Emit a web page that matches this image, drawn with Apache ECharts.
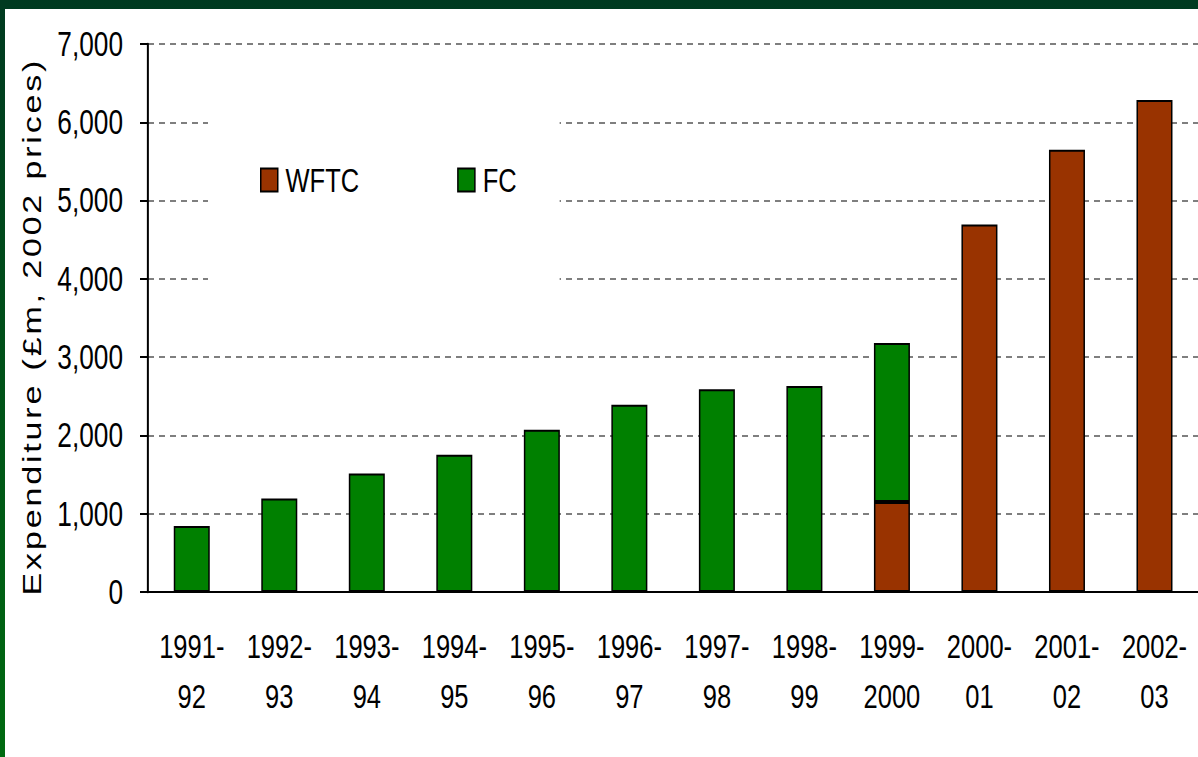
<!DOCTYPE html>
<html>
<head>
<meta charset="utf-8">
<script src="https://cdn.jsdelivr.net/npm/echarts@6/dist/echarts.min.js"></script>
<style>
  html, body { margin: 0; padding: 0; }
  body {
    width: 1198px; height: 757px; overflow: hidden; position: relative;
    background: linear-gradient(to bottom, #003a20, #006a10);
  }
  #sheet {
    position: absolute; left: 5px; top: 9px;
    width: 1193px; height: 748px; background: #fff; overflow: hidden;
  }
  /* the source slide is stretched: text is tall and narrow, so draw wide and squeeze */
  #main {
    width: 1590.67px; height: 748px;
    transform: scaleX(0.75); transform-origin: 0 0;
  }
</style>
</head>
<body>
<div id="sheet"><div id="main"></div></div>
<script>
var years = ['1991-\n92', '1992-\n93', '1993-\n94', '1994-\n95', '1995-\n96', '1996-\n97',
  '1997-\n98', '1998-\n99', '1999-\n2000', '2000-\n01', '2001-\n02', '2002-\n03'];
var wftc = [null, null, null, null, null, null, null, null, 1150, 4695, 5650, 6285];
var fc = [843, 1195, 1513, 1754, 2073, 2393, 2589, 2631, 2031, null, null, null];

var K = 0.75; // horizontal squeeze, screen px = K * chart px
function px(v) { return v / K; }

var font = 'Arial, "Liberation Sans", sans-serif';
var hs = '\u200A';
var title = 'Expenditure (£m, 2002 prices)'.split('').join(hs);

var myChart = echarts.init(document.getElementById('main'), null, { renderer: 'svg' });

myChart.setOption({
  animation: false,
  textStyle: { fontFamily: font },
  legend: {
    left: px(203),
    top: 86,
    padding: [68, px(43), 98, px(52)],
    backgroundColor: '#fff',
    icon: 'rect',
    itemWidth: px(17),
    itemHeight: 23,
    itemGap: px(98),
    textStyle: { fontSize: 34, color: '#000', fontFamily: font, padding: [0, 0, 0, px(4)] },
    data: ['WFTC', 'FC']
  },
  grid: {
    left: px(143),
    top: 35,
    right: 0,
    bottom: 165
  },
  xAxis: [
    {
      type: 'category',
      data: years,
      axisLine: { lineStyle: { color: '#000', width: 2 } },
      axisTick: { length: 12, lineStyle: { color: '#000', width: px(2) } },
      axisLabel: {
        interval: 0,
        margin: 29,
        fontSize: 34,
        lineHeight: 50,
        color: '#000',
        fontFamily: font
      }
    },
    {
      type: 'category',
      data: years,
      position: 'bottom',
      axisLine: { show: false },
      axisTick: { alignWithLabel: true, interval: 0, length: 9, lineStyle: { color: '#000', width: px(2) } },
      axisLabel: { show: false }
    }
  ],
  yAxis: [
    {
      type: 'value',
      min: 0,
      max: 7000,
      interval: 1000,
      name: title,
      nameLocation: 'middle',
      nameGap: px(103),
      nameTextStyle: { fontSize: 34, color: '#000', fontFamily: font, padding: [0, 20, 0, 0] },
      axisLine: { show: true, lineStyle: { color: '#000', width: px(2) } },
      axisTick: { show: true, length: px(8), lineStyle: { color: '#000', width: 2 } },
      axisLabel: {
        margin: px(25),
        fontSize: 35,
        color: '#000',
        fontFamily: font,
        formatter: function (v) { return v.toLocaleString('en-US'); }
      },
      splitLine: { lineStyle: { color: '#555', width: 1.5, type: [px(6), px(5)] } }
    }
  ],
  series: [
    {
      name: 'WFTC',
      type: 'bar',
      stack: 'total',
      barWidth: px(36),
      itemStyle: { color: '#993300', borderColor: '#000', borderWidth: 2 },
      data: wftc
    },
    {
      name: 'FC',
      type: 'bar',
      stack: 'total',
      barWidth: px(36),
      itemStyle: { color: '#008000', borderColor: '#000', borderWidth: 2 },
      data: fc
    }
  ]
});
</script>
</body>
</html>
